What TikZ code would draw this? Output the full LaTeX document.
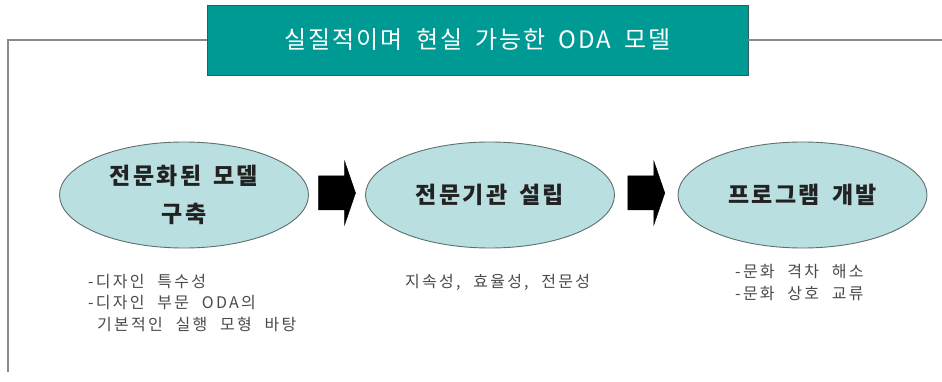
\documentclass[tikz,border=0pt]{standalone}
\usepackage{fontspec}
\setmainfont{Noto Sans CJK KR}
\newfontfamily\titlefont[LetterSpace=8,WordSpace=1.8]{Noto Sans CJK KR}
\newfontfamily\bubblefont[LetterSpace=10,WordSpace=1.6]{Noto Sans CJK KR}
\newfontfamily\notefont[LetterSpace=14,WordSpace=2.2]{Noto Sans CJK KR}
\usetikzlibrary{shapes.geometric,calc}
\definecolor{titleteal}{HTML}{009A95}
\definecolor{titleedge}{HTML}{2F5E5C}
\definecolor{bubblefill}{HTML}{B9DFE1}
\definecolor{bubbleedge}{HTML}{5D6F6E}
\definecolor{framegray}{HTML}{8A8A8A}
\definecolor{maintext}{HTML}{222222}
\definecolor{subtext}{HTML}{4A4A4A}
\tikzset{
  titlebox/.style={draw=titleedge, line width=0.8pt, fill=titleteal, minimum width=541pt, minimum height=70pt, inner sep=0pt, text=white, font=\titlefont\fontsize{24}{28}\selectfont},
  bubble/.style={ellipse, draw=bubbleedge, line width=0.9pt, fill=bubblefill, minimum width=249pt, minimum height=106pt, inner sep=0pt, align=center, text=maintext, font=\bubblefont\bfseries\fontsize{23}{38}\selectfont},
  frameline/.style={draw=framegray, line width=1.6pt},
  note/.style={anchor=west, align=left, inner sep=0pt, text=subtext, font=\notefont\fontsize{16}{21.5}\selectfont},
  blockarrow/.style={fill=black, draw=black, line width=0.5pt},
  pics/barrow/.style={code={
    \path[blockarrow] (-18.5,-17) -- (7.5,-17) -- (7.5,-32) -- (18.5,0) -- (7.5,32) -- (7.5,17) -- (-18.5,17) -- cycle;
  }}
}
\begin{document}
\begin{tikzpicture}[x=1pt,y=-1pt]
\useasboundingbox (0,0) rectangle (942,382);
\node[titlebox] (title) at (477.5,40) {실질적이며 현실 가능한 ODA 모델};
\coordinate (cornerTL) at (8,40);
\coordinate (cornerBL) at (8,372);
\coordinate (rightEnd) at (942,40);
\draw[frameline] (title.west) -- (cornerTL) -- (cornerBL);
\draw[frameline] (title.east) -- (rightEnd);
\node[bubble] (e1) at (184,195) {전문화된 모델\\구축};
\node[bubble] (e2) at (490,195) {전문기관 설립};
\node[bubble] (e3) at (802.5,195) {프로그램 개발};
\path ($(e1.east)!0.5!(e2.west)$) ++(0,-2) pic {barrow};
\path ($(e2.east)!0.5!(e3.west)$) ++(0,-2) pic {barrow};
\node[note] (n1) at (88,303) {-디자인 특수성\\-디자인 부문 ODA의\\\hspace*{9pt}기본적인 실행 모형 바탕};
\node[note] (n2) at (405,282) {지속성, 효율성, 전문성};
\node[note] (n3) at (735,282.5) {-문화 격차 해소\\-문화 상호 교류};
\end{tikzpicture}
\end{document}
